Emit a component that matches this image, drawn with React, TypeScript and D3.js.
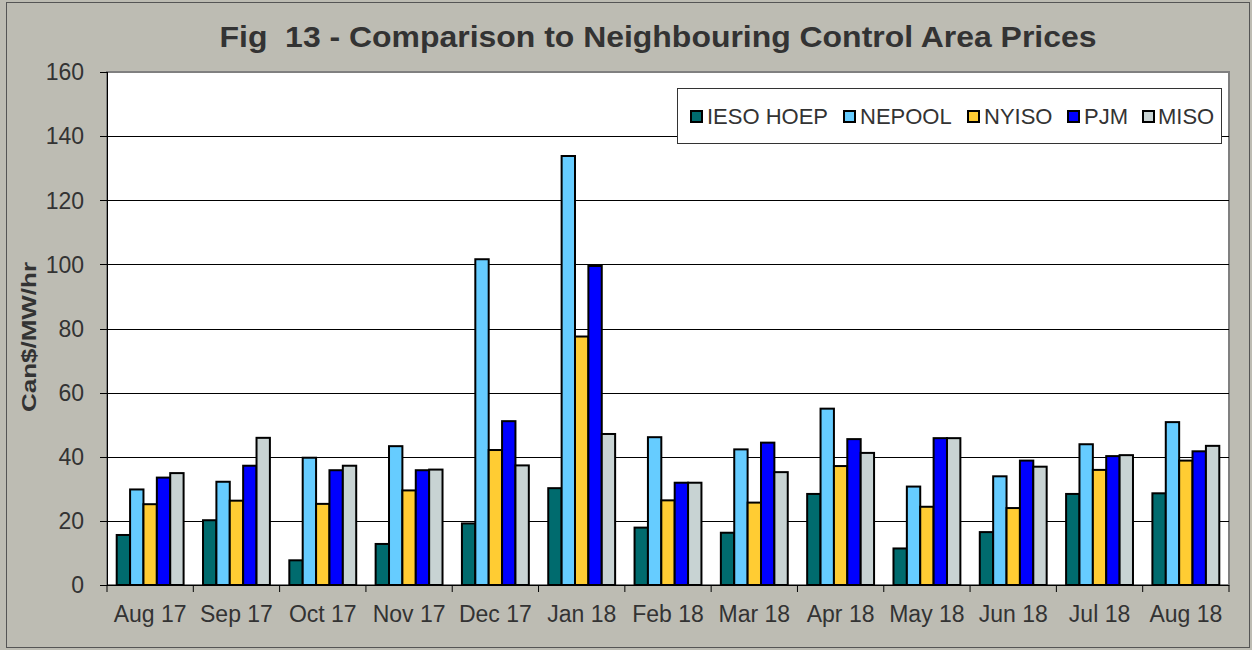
import React from "react";
import * as d3 from "d3";

const months = ["Aug 17","Sep 17","Oct 17","Nov 17","Dec 17","Jan 18","Feb 18","Mar 18","Apr 18","May 18","Jun 18","Jul 18","Aug 18"];
const seriesNames = ["IESO HOEP","NEPOOL","NYISO","PJM","MISO"];
const seriesColors = ["#006B6E","#66CCFF","#FFCC33","#0000FF","#C8D3D3"];
const iesoHoep = [15.6,20.2,7.7,12.8,19.2,30.2,17.9,16.3,28.4,11.4,16.5,28.4,28.6];
const nepool = [29.8,32.2,39.7,43.3,101.6,133.8,46.1,42.3,55.0,30.7,33.9,43.9,50.8];
const nyiso = [25.2,26.3,25.3,29.5,42.1,77.5,26.4,25.7,37.1,24.4,24.0,35.9,38.8];
const pjm = [33.5,37.2,35.8,35.8,51.1,99.5,31.9,44.4,45.5,45.8,38.8,40.2,41.7];
const miso = [34.9,45.9,37.2,36.0,37.3,47.1,31.9,35.2,41.2,45.8,36.9,40.5,43.4];
const yTicks = [0,20,40,60,80,100,120,140,160];
const titleText = "Fig  13 - Comparison to Neighbouring Control Area Prices";
const yLabel = "Can$/MW/hr";

const allSeries = [iesoHoep, nepool, nyiso, pjm, miso];

export default function App() {
  const W = 1252, H = 650;
  const left = 107, right = 1229, top = 72, bottom = 585;
  const x = d3.scaleBand<string>().domain(months).range([left, right]).paddingInner(0.225).paddingOuter(0.1125);
  const xs = d3.scaleBand<string>().domain(seriesNames).range([0, x.bandwidth()]);
  const y = d3.scaleLinear().domain([0, 160]).range([bottom, top]);
  const band = (right - left) / months.length;
  const textColor = "#333333";
  const font = "Liberation Sans, Arial, sans-serif";

  const legendItems = [
    { name: "IESO HOEP", sx: 690, tx: 707 },
    { name: "NEPOOL", sx: 843, tx: 860 },
    { name: "NYISO", sx: 967, tx: 984 },
    { name: "PJM", sx: 1067, tx: 1084 },
    { name: "MISO", sx: 1142, tx: 1158 },
  ];

  return (
    <svg width={W} height={H} style={{ position: "absolute", left: 0, top: 0 }} fontFamily={font}>
      <rect x={0} y={0} width={W} height={H} fill="#BDBCB3" />
      <rect x={6.5} y={2.5} width={1243} height={645} fill="none" stroke="#555555" />
      <rect x={left} y={top} width={right - left} height={bottom - top} fill="#FFFFFF" stroke="#808080" strokeWidth={2} />
      {yTicks.map((t) => (
        <g key={t}>
          {t > 0 && t < 160 && (
            <line x1={left} x2={right} y1={Math.round(y(t)) + 0.5} y2={Math.round(y(t)) + 0.5} stroke="#000" strokeWidth={1} />
          )}
          <line x1={left - 7} x2={left} y1={Math.round(y(t)) + 0.5} y2={Math.round(y(t)) + 0.5} stroke="#000" />
          <text x={84} y={y(t)} dy="0.36em" textAnchor="end" fontSize={23} fill={textColor}>{t}</text>
        </g>
      ))}
      {months.map((m, i) => (
        <g key={m}>
          {seriesNames.map((s, j) => {
            const v = allSeries[j][i];
            return (
              <rect key={s} x={(x(m) as number) + (xs(s) as number)} y={y(v)} width={xs.bandwidth()} height={y(0) - y(v)}
                fill={seriesColors[j]} stroke="#000" strokeWidth={2} />
            );
          })}
          <text x={(x(m) as number) + x.bandwidth() / 2} y={622} textAnchor="middle" fontSize={23} fill={textColor}>{m}</text>
        </g>
      ))}
      {d3.range(months.length + 1).map((k) => (
        <line key={k} x1={left + k * band} x2={left + k * band} y1={bottom} y2={bottom + 7} stroke="#000" />
      ))}
      <line x1={left + 0.5} x2={left + 0.5} y1={top} y2={bottom} stroke="#000" />
      <line x1={left} x2={right} y1={bottom + 0.5} y2={bottom + 0.5} stroke="#000" />
      {/* legend */}
      <rect x={677.5} y={88.5} width={544} height={55} fill="#FFFFFF" stroke="#333" />
      {legendItems.map((it, j) => (
        <g key={it.name}>
          <rect x={it.sx + 1} y={111} width={11} height={11} fill={seriesColors[j]} stroke="#000" strokeWidth={2} />
          <text x={it.tx} y={123.5} fontSize={22} fill={textColor}>{it.name}</text>
        </g>
      ))}
      <text x={658} y={47} textAnchor="middle" fontSize={30} fontWeight="bold" fill={textColor}
        xmlSpace="preserve" style={{ whiteSpace: "pre" }} textLength={877} lengthAdjust="spacingAndGlyphs">{titleText}</text>
      <text transform={`translate(36, 337) rotate(-90)`} textAnchor="middle" fontSize={21} fontWeight="bold" fill={textColor}
        textLength={150} lengthAdjust="spacingAndGlyphs">{yLabel}</text>
    </svg>
  );
}
